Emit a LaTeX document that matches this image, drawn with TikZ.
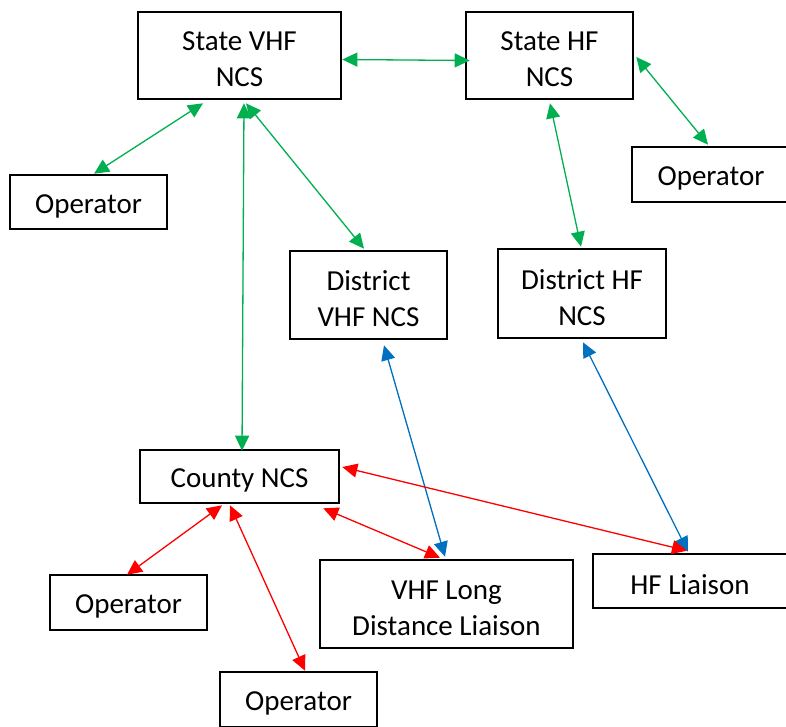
\documentclass[tikz,border=0pt]{standalone}
\usepackage{fontspec}
\setmainfont{Carlito}
\usetikzlibrary{arrows.meta}
\definecolor{cgreen}{HTML}{00B050}
\definecolor{cblue}{HTML}{0070C0}
\definecolor{cred}{HTML}{FF0000}
\begin{document}
\begin{tikzpicture}[x=1pt,y=-1pt,
  box/.style={draw=black, line width=2.6pt, inner sep=0pt},
  txt/.style={align=center, inner sep=0pt, yshift=-4pt, font=\fontsize{29}{36}\selectfont},
  link/.style={line width=1.3pt, {Triangle[length=15pt,width=14pt]}-{Triangle[length=15pt,width=14pt]}},
  gl/.style={link, draw=cgreen, fill=cgreen},
  bl/.style={link, draw=cblue, fill=cblue},
  rl/.style={link, draw=cred, fill=cred}]
\useasboundingbox (0,0) rectangle (786,726);
\fill[white] (0,0) rectangle (786,726);
\node[box, minimum width=203pt, minimum height=87pt, label={[txt]center:State VHF\\NCS}] (svhf) at (239.5,55.5) {};
\node[box, minimum width=167pt, minimum height=87pt, label={[txt]center:State HF\\NCS}] (shf) at (549.5,55.5) {};
\node[box, minimum width=157pt, minimum height=54pt, label={[txt]center:Operator}] (opL) at (88.5,202) {};
\node[box, minimum width=158pt, minimum height=55pt, label={[txt]center:Operator}] (opR) at (711,174.5) {};
\node[box, minimum width=157pt, minimum height=88pt, label={[txt]center:District\\VHF NCS}] (dvhf) at (368.5,295) {};
\node[box, minimum width=168pt, minimum height=89pt, label={[txt]center:District HF\\NCS}] (dhf) at (582,293.5) {};
\node[box, minimum width=199pt, minimum height=53pt, label={[txt]center:County NCS}] (county) at (239.5,476.5) {};
\node[box, minimum width=157pt, minimum height=55pt, label={[txt]center:Operator}] (opBL) at (128.5,602.5) {};
\node[box, minimum width=253pt, minimum height=88pt, label={[txt]center:VHF Long\\Distance Liaison}] (vldl) at (446.5,604) {};
\node[box, minimum width=194pt, minimum height=54pt, label={[txt]center:HF Liaison}] (hfl) at (690,581) {};
\node[box, minimum width=157pt, minimum height=55pt, label={[txt]center:Operator}] (opB) at (298.5,699.5) {};
% green links
\draw[gl] ([yshift=-4pt]svhf.east) -- ([xshift=5pt,yshift=-5pt]shf.west);
\draw[gl] ([xshift=-36.5pt,yshift=-3pt]svhf.south) -- ([xshift=5.5pt]opL.north);
\draw[gl] ([xshift=4.5pt,yshift=-3pt]svhf.south) -- ([xshift=2.5pt,yshift=-2pt]county.north);
\draw[gl] ([xshift=6.5pt,yshift=-3pt]svhf.south) -- ([xshift=-4.5pt,yshift=1pt]dvhf.north);
\draw[gl] ([xshift=0.5pt,yshift=-3pt]shf.south) -- ([xshift=-1pt,yshift=1pt]dhf.north);
\draw[gl] ([xshift=2pt,yshift=-1.5pt]shf.east) -- ([xshift=-3pt,yshift=1pt]opR.north);
% blue links
\draw[bl] ([xshift=15.5pt,yshift=-5pt]dvhf.south) -- ([xshift=-1.5pt,yshift=2pt]vldl.north);
\draw[bl] ([xshift=1pt,yshift=-3pt]dhf.south) -- ([xshift=-2pt,yshift=1pt]hfl.north);
% red links
\draw[rl] ([xshift=2pt,yshift=9.5pt]county.east) -- ([xshift=-3pt,yshift=2pt]hfl.north);
\draw[rl] ([xshift=-17pt,yshift=-4pt]county.south east) -- ([xshift=-6.5pt,yshift=1pt]vldl.north);
\draw[rl] ([xshift=-17.5pt,yshift=-1pt]county.south) -- ([xshift=-1.5pt,yshift=-1pt]opBL.north);
\draw[rl] ([xshift=-9.5pt,yshift=-1pt]county.south) -- ([xshift=6.5pt]opB.north);
\end{tikzpicture}
\end{document}
